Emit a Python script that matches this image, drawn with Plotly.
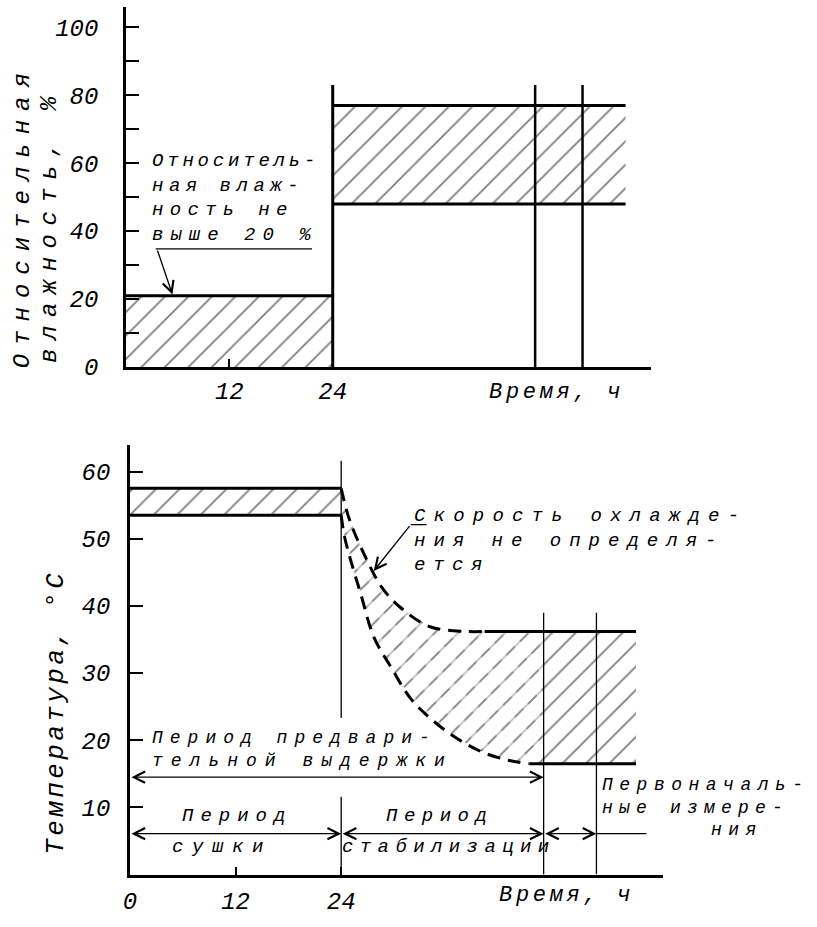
import plotly.graph_objects as go

W, H = 817, 927
FONT = "Liberation Mono"

# ---------------- Relative humidity chart (top) ----------------
HUM_X_RANGE = [0, 61]
HUM_Y_RANGE = [0, 106]
HUM_X_TICKS = [12, 24]
HUM_Y_TICKS = [0, 10, 20, 30, 40, 50, 60, 70, 80, 90, 100]
HUM_Y_LABELS = ["0", "", "20", "", "40", "", "60", "", "80", "", "100"]
DRY_TIME = [0, 24]            # drying period, h
DRY_HUM = [0, 21]             # humidity band during drying, %
COND_TIME = [24, 58]          # conditioning period, h
COND_HUM = [48, 77]           # humidity band during conditioning, %
HUM_MARK_TIMES = [24, 47.5, 53]
HUM_MARK_TOP = 83
HUM_LEADER_X = [3.45, 21.6]
HUM_LEADER_Y = 34.75
HUM_ARROW_TAIL = (3.6, 34.75)
HUM_ARROW_HEAD = (5.4, 21.3)

# ---------------- Temperature chart (bottom) ----------------
TEMP_X_RANGE = [0, 60.6]
TEMP_Y_RANGE = [0, 64]
TEMP_X_TICKS = [0, 12, 24]
TEMP_Y_TICKS = [10, 20, 30, 40, 50, 60]
DRY_TEMP = [53.5, 57.5]
COOL_UP_TIME = [24, 24.9, 26.6, 28.6, 30.7, 34.1, 38.2, 40.3]
COOL_UP_TEMP = [57.5, 53.0, 47.7, 42.8, 39.8, 36.9, 36.2, 36.2]
COOL_LOW_TIME = [24, 24.35, 25.1, 26.2, 27.7, 29.6, 31.9, 34.1, 37.0, 40.1, 43.1, 45.4]
COOL_LOW_TEMP = [53.5, 50.5, 46.7, 41.9, 35.4, 31.0, 26.2, 23.3, 20.4, 18.2, 17.0, 16.5]
STAB_TIME = [47, 57.5]
STAB_TEMP = [16.5, 36.2]
TEMP_MARK_TIMES = [47, 53]
TEMP_MARK_TOP = 39
DAY_MARK_SEGMENTS = [[23.3, 61.6], [0, 11.6]]
PRECOND_SPAN = [0, 47]
PRECOND_Y = 14.5
PERIOD_BOUNDS = [0, 24, 47, 53]
PERIOD_Y = 6.1
PERIOD_LINE_END = 58.7
COOL_LEADER_X = [31.9, 33.7]
COOL_LEADER_Y = 52.1
COOL_ARROW_TIP = (27.7, 45.2)


def rect(xs, ys):
    return [xs[0], xs[1], xs[1], xs[0], xs[0]], [ys[0], ys[0], ys[1], ys[1], ys[0]]


def hatch(fig, xs, ys, xa, ya, size=16.6, solid=0.11):
    fig.add_trace(go.Scatter(
        x=xs, y=ys, xaxis=xa, yaxis=ya, mode="none", fill="toself",
        fillcolor="rgba(0,0,0,0)", hoverinfo="skip",
        fillpattern=dict(shape="/", size=size, solidity=solid,
                         fgcolor="black", bgcolor="rgba(0,0,0,0)")))


def line(fig, xs, ys, xa, ya, w=3, dash="solid", shape="linear"):
    fig.add_trace(go.Scatter(
        x=xs, y=ys, xaxis=xa, yaxis=ya, mode="lines", hoverinfo="skip",
        line=dict(color="black", width=w, dash=dash, shape=shape, smoothing=1)))


fig = go.Figure()

# ---- top chart marks ----
hatch(fig, *rect(DRY_TIME, DRY_HUM), "x", "y")
hatch(fig, *rect(COND_TIME, COND_HUM), "x", "y")
line(fig, DRY_TIME, [DRY_HUM[1]] * 2, "x", "y", w=3)
for v in COND_HUM:
    line(fig, COND_TIME, [v, v], "x", "y", w=3)
for i, t in enumerate(HUM_MARK_TIMES):
    line(fig, [t, t], [0, HUM_MARK_TOP], "x", "y", w=3 if i == 0 else 2.5)
line(fig, HUM_LEADER_X, [HUM_LEADER_Y] * 2, "x", "y", w=1.3)

# ---- bottom chart marks ----
hatch(fig, *rect(DRY_TIME, DRY_TEMP), "x2", "y2")
zone_x = COOL_UP_TIME + [STAB_TIME[0], STAB_TIME[0]] + COOL_LOW_TIME[::-1]
zone_y = COOL_UP_TEMP + [STAB_TEMP[1], STAB_TEMP[0]] + COOL_LOW_TEMP[::-1]
hatch(fig, zone_x, zone_y, "x2", "y2")
# white cuts turn the hatch inside the cooling zone into dashes
fig.add_trace(go.Scatter(
    x=zone_x, y=zone_y, xaxis="x2", yaxis="y2", mode="none", fill="toself",
    fillcolor="rgba(0,0,0,0)", hoverinfo="skip",
    fillpattern=dict(shape="\\", size=19, solidity=0.37,
                     fgcolor="white", bgcolor="rgba(0,0,0,0)")))
hatch(fig, *rect(STAB_TIME, STAB_TEMP), "x2", "y2")

for v in DRY_TEMP:
    line(fig, DRY_TIME, [v, v], "x2", "y2", w=3)
for seg in DAY_MARK_SEGMENTS:
    line(fig, [24, 24], seg, "x2", "y2", w=1.3)
for t in TEMP_MARK_TIMES:
    line(fig, [t, t], [0, TEMP_MARK_TOP], "x2", "y2", w=1.3)
line(fig, COOL_UP_TIME, COOL_UP_TEMP, "x2", "y2", w=3, dash="13px,8px", shape="spline")
line(fig, COOL_LOW_TIME, COOL_LOW_TEMP, "x2", "y2", w=3, dash="13px,8px", shape="spline")
line(fig, [COOL_UP_TIME[-1], STAB_TIME[1]], [STAB_TEMP[1]] * 2, "x2", "y2", w=3)
line(fig, [COOL_LOW_TIME[-1], STAB_TIME[1]], [STAB_TEMP[0]] * 2, "x2", "y2", w=3)
line(fig, [PERIOD_BOUNDS[-1], PERIOD_LINE_END], [PERIOD_Y] * 2, "x2", "y2", w=1.2)
line(fig, COOL_LEADER_X, [COOL_LEADER_Y] * 2, "x2", "y2", w=1.3)

# ---------------- arrows ----------------
ann = []


def arrow(x0, y0, x1, y1, xa, ya, both=False):
    d = dict(x=x1, y=y1, ax=x0, ay=y0, xref=xa, yref=ya, axref=xa, ayref=ya,
             text="", showarrow=True, arrowhead=5, arrowsize=1.7,
             arrowwidth=1.3, arrowcolor="black", font=dict(size=1))
    if both:
        d.update(arrowside="end+start", startarrowhead=5, startarrowsize=1.7)
    ann.append(d)


arrow(*HUM_ARROW_TAIL, *HUM_ARROW_HEAD, "x", "y")
arrow(COOL_LEADER_X[0], COOL_LEADER_Y, *COOL_ARROW_TIP, "x2", "y2")
arrow(PRECOND_SPAN[0], PRECOND_Y, PRECOND_SPAN[1], PRECOND_Y, "x2", "y2", both=True)
for a, b in zip(PERIOD_BOUNDS[:-1], PERIOD_BOUNDS[1:]):
    arrow(a, PERIOD_Y, b, PERIOD_Y, "x2", "y2", both=True)


# ---------------- texts (paper coordinates from pixel layout) ----------------
def sp(s, ls):
    return f'<span style="letter-spacing:{ls}px">{s}</span>'


def txt(lines, x, y, size=19, xanchor="left", angle=0):
    body = "<br>".join(sp(s, ls) for s, ls in lines)
    ann.append(dict(
        text=body, x=x / W, y=1 - y / H, xref="paper", yref="paper",
        xanchor=xanchor, yanchor="middle", showarrow=False, textangle=angle,
        align="left" if xanchor == "left" else "center", borderpad=0,
        font=dict(family=FONT, size=size, color="black", style="italic")))


# top chart texts
txt([("Относительная", 9)], 16, 220, size=24, xanchor="center", angle=-90)
txt([("влажность, %", 8.5)], 43, 229, size=24, xanchor="center", angle=-90)
txt([("Относитель-", 3.8), ("ная влаж-", 5.5), ("ность не", 6.3), ("выше 20 %", 7)],
    145, 201, size=19)
txt([("Время, ч", 3.7)], 485, 399, size=22)

# bottom chart texts
txt([("Температура, °С", 3.4)], 50, 724, size=26, xanchor="center", angle=-90)
txt([("Скорость охлажде-", 8.2), ("ния не определя-", 8), ("ется", 7.6)],
    410, 549, size=19)
txt([("Период предвари-", 7), ("тельной выдержки", 8)], 145, 762, size=18)
txt([("Период", 7)], 232, 829, xanchor="center")
txt([("сушки", 8.6)], 217, 861, xanchor="center")
txt([("Период", 6.5)], 436, 829, xanchor="center")
txt([("стабилизации", 6.4)], 446, 861, xanchor="center")
txt([("Первоначаль-", 6.5), ("ные измере-", 6.2)], 599, 810, size=18)
txt([("ния", 6.5)], 736, 844, size=18, xanchor="center")
txt([("Время, ч", 3.7)], 495, 910, size=22)

tickfont = dict(family=FONT, size=24, color="black", style="italic")
axis_common = dict(showline=True, linecolor="black", linewidth=2.5, showgrid=False,
                   zeroline=False, ticks="inside", tickcolor="black", tickwidth=1.5,
                   tickfont=tickfont, fixedrange=True)

fig.update_layout(
    width=W, height=H, margin=dict(l=0, r=0, t=0, b=0),
    paper_bgcolor="white", plot_bgcolor="white", showlegend=False,
    annotations=ann,
    xaxis=dict(axis_common, domain=[120 / W, 650 / W], range=HUM_X_RANGE, anchor="y",
               tickvals=HUM_X_TICKS, ticktext=[str(v) for v in HUM_X_TICKS],
               ticklen=8, ticklabelstandoff=0),
    yaxis=dict(axis_common, domain=[1 - 373 / H, 1 - 7 / H], range=HUM_Y_RANGE, anchor="x",
               tickvals=HUM_Y_TICKS, ticktext=HUM_Y_LABELS, ticklen=13,
               ticklabelstandoff=20),
    xaxis2=dict(axis_common, domain=[124 / W, 662 / W], range=TEMP_X_RANGE, anchor="y2",
                tickvals=TEMP_X_TICKS, ticktext=[str(v) for v in TEMP_X_TICKS],
                ticklen=8, ticklabelstandoff=3),
    yaxis2=dict(axis_common, domain=[1 - 889 / H, 1 - 452 / H], range=TEMP_Y_RANGE,
                anchor="x2", tickvals=TEMP_Y_TICKS,
                ticktext=[str(v) for v in TEMP_Y_TICKS], ticklen=13,
                ticklabelstandoff=12),
)

fig.write_html(
    "out.html",
    config={"displayModeBar": False},
    post_script="document.body.style.margin='0';document.body.style.overflow='hidden';",
)
